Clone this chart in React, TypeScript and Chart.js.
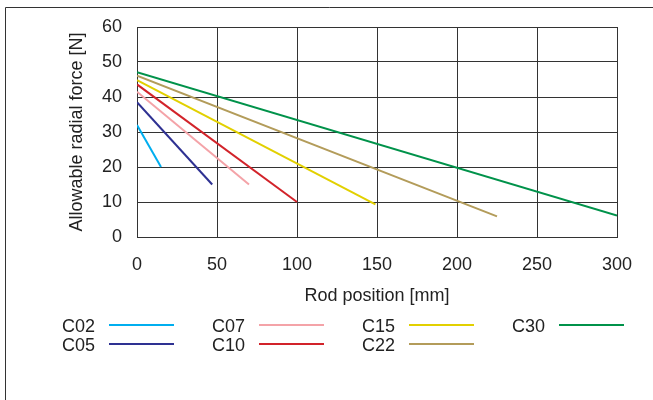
import React, { useEffect, useRef } from "react";
import { Chart, registerables } from "chart.js";

Chart.register(...registerables);

// Series data: each line runs from (0, startForce) to (endPosition, endForce)
const seriesNames = ["C02", "C05", "C07", "C10", "C15", "C22", "C30"];
const startForce = [32, 38.5, 41.5, 43.6, 44.8, 46.1, 47.1];
const endPosition = [15, 47, 70, 100, 149, 225, 300];
const endForce = [20, 15, 15, 10, 9.3, 5.9, 6.1];

const xTicks = [0, 50, 100, 150, 200, 250, 300];
const yTicks = [0, 10, 20, 30, 40, 50, 60];

const seriesColors = ["#00aeef", "#2e3192", "#f4a3a8", "#d2232a", "#e2d000", "#b39c5a", "#00924a"];

const FONT = '"Liberation Sans", Arial, sans-serif';
const TEXT = "#222";
const GRID = "#333";

const decorPlugin = {
  id: "decor",
  afterDraw(chart: any) {
    const ctx = chart.ctx as CanvasRenderingContext2D;
    ctx.save();
    // outer frame (top and left edges)
    ctx.strokeStyle = "#333";
    ctx.lineWidth = 1;
    ctx.beginPath();
    ctx.moveTo(5.5, 400);
    ctx.lineTo(5.5, 7.5);
    ctx.lineTo(653, 7.5);
    ctx.stroke();
    // legend, column-major in 2 rows
    ctx.font = `18px ${FONT}`;
    ctx.textBaseline = "middle";
    ctx.textAlign = "left";
    seriesNames.forEach((name, i) => {
      const col = Math.floor(i / 2);
      const row = i % 2;
      const x = 62 + col * 150;
      const y = 327 + row * 19;
      ctx.fillStyle = TEXT;
      ctx.fillText(name, x, y);
      ctx.strokeStyle = seriesColors[i];
      ctx.lineWidth = 2;
      ctx.beginPath();
      ctx.moveTo(x + 47, y - 2);
      ctx.lineTo(x + 112, y - 2);
      ctx.stroke();
    });
    ctx.restore();
  },
};

export default function App() {
  const ref = useRef<HTMLCanvasElement | null>(null);

  useEffect(() => {
    if (!ref.current) return;
    const datasets = seriesNames.map((name, i) => ({
      label: name,
      data: [
        { x: 0, y: startForce[i] },
        { x: endPosition[i], y: endForce[i] },
      ],
      borderColor: seriesColors[i],
      backgroundColor: seriesColors[i],
      borderWidth: 2,
      pointRadius: 0,
      fill: false,
    }));

    const chart = new Chart(ref.current, {
      type: "line",
      data: { datasets },
      options: {
        responsive: false,
        animation: false,
        layout: { padding: { left: 0, top: 27, right: 36, bottom: 83 } },
        plugins: {
          legend: { display: false },
          tooltip: { enabled: false },
        },
        scales: {
          x: {
            type: "linear",
            min: 0,
            max: 300,
            afterBuildTicks: (axis: any) => {
              axis.ticks = xTicks.map((v) => ({ value: v }));
            },
            afterFit: (axis: any) => {
              axis.height = 80;
            },
            ticks: {
              font: { size: 18, family: FONT },
              color: TEXT,
              padding: 17,
              maxRotation: 0,
            },
            grid: { color: GRID, lineWidth: 1, drawTicks: false },
            border: { display: true, color: GRID, width: 1 },
            title: {
              display: true,
              text: "Rod position [mm]",
              font: { size: 18, family: FONT },
              color: TEXT,
              padding: { top: 0, bottom: 10 },
            },
          },
          y: {
            type: "linear",
            min: 0,
            max: 60,
            afterBuildTicks: (axis: any) => {
              axis.ticks = yTicks.map((v) => ({ value: v }));
            },
            afterFit: (axis: any) => {
              axis.width = 137;
            },
            ticks: {
              font: { size: 18, family: FONT },
              color: TEXT,
              padding: 15,
            },
            grid: { color: GRID, lineWidth: 1, drawTicks: false },
            border: { display: true, color: GRID, width: 1 },
            title: {
              display: true,
              text: "Allowable radial force [N]",
              font: { size: 18, family: FONT },
              color: TEXT,
              padding: { top: 66, bottom: 0 },
            },
          },
        },
      },
      plugins: [decorPlugin],
    });
    return () => chart.destroy();
  }, []);

  return (
    <div style={{ position: "absolute", left: 0, top: 0, width: 653, height: 400, background: "#fff" }}>
      <canvas ref={ref} width={653} height={400} style={{ display: "block" }} />
    </div>
  );
}
